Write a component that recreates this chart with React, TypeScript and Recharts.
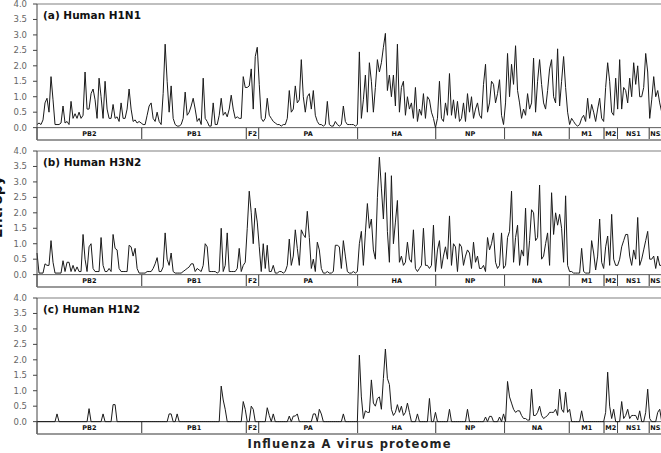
import { LineChart, Line, XAxis, YAxis, ReferenceArea, ReferenceLine } from 'recharts';

// proteome segments (amino acids)
const proteins = ['PB2', 'PB1', 'F2', 'PA', 'HA', 'NP', 'NA', 'M1', 'M2', 'NS1', 'NS2'];
const proteinLengths = [759, 757, 90, 716, 566, 498, 469, 252, 97, 230, 121];
const STEP = 14.5; // aa between samples

const yTicks = [0, 0.5, 1, 1.5, 2, 2.5, 3, 3.5, 4];

// (a) Human H1N1
const h1n1 = [
  // PB2
  0.1, 0.15, 0.1, 0.25, 0.8, 0.95, 0.5, 1.65, 0.9, 0.1, 0.1, 0.1, 0.15, 0.7, 0.15, 0.2, 0.1, 0.85, 0.3, 0.45,
  0.3, 0.5, 0.3, 0.4, 1.8, 0.6, 0.6, 1.1, 1.25, 0.9, 0.3, 1.6, 1.0, 0.3, 1.5, 0.6, 0.3, 0.3, 0.75, 0.3,
  0.35, 0.2, 0.8, 0.3, 0.3, 0.6, 1.25, 0.6, 0.2, 0.25, 0.15, 0.2, 0.15,
  // PB1
  0.1, 0.1, 0.4, 0.7, 0.8, 0.3, 0.2, 0.5, 0.2, 0.1, 1.1, 2.7, 1.5, 0.5, 1.35, 0.3, 0.1, 0.05, 0.05, 0.1,
  0.3, 1.15, 0.4, 0.5, 0.7, 0.95, 0.6, 0.2, 0.3, 0.1, 1.6, 0.3, 0.2, 0.05, 0.05, 0.8, 0.1, 0.1, 0.4, 0.95,
  0.4, 0.5, 0.35, 0.6, 1.05, 0.6, 0.3, 0.35, 0.3, 0.3, 1.65, 1.3,
  // F2
  1.3, 1.35, 1.9, 0.6, 2.3, 2.6, 1.4,
  // PA
  0.3, 0.2, 0.3, 0.95, 0.4, 0.3, 0.2, 0.15, 0.1, 0.1, 0.05, 0.1, 0.1, 0.3, 1.2, 0.5, 0.6, 1.35, 0.8, 0.9,
  2.2, 1.0, 0.5, 1.0, 1.1, 0.6, 1.2, 0.4, 0.2, 0.1, 0.1, 0.05, 0.1, 0.85, 0.1, 0.05, 0.05, 0.2, 0.1, 0.05,
  0.1, 0.7, 0.2, 0.1, 0.1, 0.1, 0.1, 0.05,
  // HA
  0.1, 2.45, 0.3, 0.9, 1.7, 0.5, 2.1, 1.5, 0.5, 1.3, 2.2, 1.8, 2.1, 2.6, 3.05, 1.2, 1.7, 1.0, 1.7, 0.7,
  2.7, 0.5, 1.3, 1.5, 0.4, 1.0, 0.6, 0.8, 0.3, 1.3, 0.2, 0.6, 0.4, 1.1, 0.3, 1.0, 0.9, 0.5, 0.3, 0,
  // NP
  0.3, 1.5, 0.3, 0.2, 0.8, 0.4, 1.75, 0.4, 0.9, 0.3, 0.85, 0.2, 0.3, 0.8, 0.2, 1.1, 0.5, 1.0, 0.3, 0.6,
  0.8, 0.4, 0.3, 1.4, 2.05, 0.5, 0.8, 1.5, 1.4, 0.8, 1.1, 1.55, 0.4, 0.1,
  // NA
  0.8, 2.4, 1.0, 2.05, 1.4, 2.65, 1.2, 0.8, 0.3, 0.6, 0.4, 1.1, 0.6, 0.8, 2.25, 0.5, 1.5, 2.2, 1.4, 0.8,
  0.6, 1.2, 1.9, 2.2, 1.0, 0.8, 2.55, 0.7, 1.5, 2.3, 1.3, 0.5, 0.1,
  // M1
  0.3, 0.2, 0.1, 0.05, 0.1, 0.3, 0.4, 0.2, 0.95, 0.3, 0.75, 0.5, 0.2, 0.6, 0.95, 0.3, 0.2,
  // M2
  1.3, 2.1, 1.5, 0.5, 0.4, 1.6, 0.6,
  // NS1
  2.2, 0.6, 1.3, 1.2, 0.8, 1.6, 1.0, 2.1, 1.4, 2.0, 1.0, 1.0, 1.3, 2.4, 1.8, 0.3,
  // NS2
  0.9, 1.65, 1.0, 1.2, 0.8, 0.5, 0.4, 0.3,
];

// (b) Human H3N2
const h3n2 = [
  // PB2
  0.7, 0.05, 0.05, 0.05, 0.35, 0.3, 0.3, 1.1, 0.4, 0.05, 0.05, 0.05, 0.05, 0.45, 0.1, 0.4, 0.4, 0.1, 0.3, 0.1,
  0.25, 0.1, 0.1, 1.3, 0.5, 0.1, 0.9, 1.0, 0.2, 0.1, 0.1, 0.1, 1.2, 0.3, 0.1, 0.1, 0.2, 0.1, 1.3, 0.85,
  0.8, 0.2, 0.1, 0.1, 0.1, 0.1, 0.95, 0.9, 0.6, 0.85, 0.2, 0.05, 0.05,
  // PB1
  0.05, 0.05, 0.1, 0.1, 0.1, 0.2, 0.35, 0.55, 0.1, 0.1, 0.25, 1.35, 0.5, 0.3, 0.7, 0.1, 0.05, 0.05, 0.05, 0.05,
  0.1, 0.15, 0.2, 0.25, 0.35, 0.35, 0.1, 0.2, 0.15, 0.1, 0.3, 1.0, 0.9, 0.1, 0.1, 0.1, 0.1, 0.05, 0.1, 1.5,
  0.1, 0.3, 1.35, 0.1, 0.1, 0.1, 0.1, 0.2, 0.85, 0.1, 0.3, 0.4,
  // F2
  1.5, 2.7, 2.0, 1.0, 2.15, 1.7, 0.9,
  // PA
  0.1, 1.0, 0.2, 0.95, 0.1, 0.1, 0.3, 0.05, 0.05, 0.1, 0.1, 0.05, 0.1, 0.3, 1.15, 0.3, 0.6, 1.45, 0.85, 0.3,
  1.45, 1.3, 1.2, 2.05, 1.2, 0.2, 0.5, 0.1, 1.05, 0.8, 0.2, 0.05, 0.05, 0.1, 0.05, 0.05, 0.1, 0.95, 0.95, 0.9,
  0.2, 1.1, 0.6, 0.1, 0.05, 0.05, 0.1, 0.05,
  // HA
  0.1, 1.0, 1.4, 0.3, 1.35, 2.3, 1.5, 1.8, 0.8, 0.5, 2.5, 3.8, 2.8, 1.8, 3.3, 1.4, 0.4, 3.2, 1.0, 1.7,
  2.4, 0.4, 0.6, 0.3, 0.4, 1.05, 0.5, 0.4, 1.45, 0.2, 0.1, 0.2, 0.3, 1.5, 0.3, 0.3, 0.2, 0.3, 1.6, 0.1,
  // NP
  0.8, 1.1, 0.2, 0.6, 0.9, 0.5, 1.9, 0.3, 1.0, 0.9, 0.1, 1.0, 0.9, 0.3, 0.6, 0.8, 0.7, 0.2, 1.05, 0.4,
  0.6, 0.2, 0.2, 0.3, 0.1, 1.2, 0.8, 1.0, 1.35, 0.4, 0.2, 0.3, 1.35, 0.2,
  // NA
  0.3, 1.2, 1.4, 2.7, 0.4, 1.2, 1.6, 0.3, 0.8, 0.6, 2.15, 0.3, 1.1, 2.1, 2.0, 1.1, 1.2, 2.9, 0.5, 0.6,
  1.0, 1.35, 0.3, 2.65, 1.3, 2.0, 1.6, 1.95, 1.5, 0.4, 2.55, 0.3, 0.1,
  // M1
  0.1, 0.05, 0.05, 0.05, 0.05, 0.85, 0.1, 0.05, 0.05, 0.05, 1.1, 0.7, 0.15, 0.6, 1.8, 0.4, 0.2,
  // M2
  0.9, 1.25, 0.3, 1.95, 0.5, 0.3, 0.3,
  // NS1
  0.5, 0.9, 1.1, 1.3, 1.3, 0.6, 0.3, 0.8, 0.5, 1.85, 0.3, 0.5, 0.8, 1.1, 1.4, 0.5,
  // NS2
  0.5, 0.6, 0.2, 0.6, 0.3, 0.3, 0.2, 0.2,
];

// (c) Human H1N2
const h1n2 = [
  // PB2
  0, 0, 0, 0, 0, 0, 0, 0, 0, 0, 0.25, 0, 0, 0, 0, 0, 0, 0, 0, 0,
  0, 0, 0, 0, 0, 0, 0.42, 0, 0, 0, 0, 0, 0, 0.25, 0, 0, 0, 0, 0.55, 0.55,
  0, 0, 0, 0, 0, 0, 0, 0, 0, 0, 0, 0, 0,
  // PB1
  0, 0, 0, 0, 0, 0, 0, 0, 0, 0, 0, 0, 0, 0.25, 0.25, 0, 0, 0.25, 0, 0,
  0, 0, 0, 0, 0, 0, 0, 0, 0, 0, 0, 0, 0, 0, 0, 0, 0, 0, 0, 1.15,
  0.7, 0.4, 0, 0, 0, 0, 0, 0, 0, 0, 0.65, 0.4,
  // F2
  0, 0, 0.5, 0.4, 0, 0, 0,
  // PA
  0, 0, 0, 0.45, 0.2, 0, 0.25, 0, 0, 0, 0, 0, 0, 0, 0.18, 0, 0.18, 0.18, 0.25, 0,
  0, 0, 0, 0, 0, 0, 0.25, 0.25, 0, 0.4, 0.25, 0, 0, 0, 0, 0, 0, 0, 0, 0,
  0, 0.25, 0, 0, 0, 0, 0, 0,
  // HA
  0, 2.15, 0.8, 0.1, 0.35, 0.3, 0.3, 1.35, 0.6, 0.5, 0.75, 0.8, 0.4, 1.4, 2.35, 1.4, 1.2, 0.4, 0.2, 0.3,
  0.55, 0.3, 0.5, 0.2, 0.3, 0.6, 0.3, 0, 0, 0, 0.25, 0, 0, 0, 0, 0, 0.75, 0, 0, 0.3,
  // NP
  0, 0, 0, 0, 0, 0, 0.4, 0, 0, 0, 0, 0, 0, 0, 0, 0.4, 0, 0, 0, 0,
  0, 0, 0, 0, 0.15, 0, 0.17, 0.17, 0, 0, 0, 0.15, 0, 0.25,
  // NA
  0, 1.3, 0.8, 0.6, 0.4, 0.3, 0.35, 0.35, 0.2, 0.1, 0.1, 0.05, 0.05, 1.05, 0.2, 0.2, 0.3, 0.5, 0.2, 0.1,
  0.15, 0.2, 0.3, 0.3, 0.3, 0.4, 0.2, 1.05, 0.4, 0.3, 0.95, 0.3, 0.4,
  // M1
  0, 0, 0, 0, 0, 0.35, 0, 0, 0, 0, 0, 0, 0, 0, 0, 0, 0,
  // M2
  0.3, 1.6, 0.5, 0.1, 0.4, 0, 0,
  // NS1
  0, 0.65, 0.1, 0.2, 0.4, 0.1, 0.2, 0.2, 0.2, 0.05, 0.35, 0, 0, 0.3, 1.05, 0.1,
  // NS2
  0, 0, 0, 0.3, 0.4, 0, 0, 0,
];

const TOTAL = proteinLengths.reduce((s, v) => s + v, 0);
const bounds = proteinLengths.map((len, i) => {
  const start = proteinLengths.slice(0, i).reduce((s, v) => s + v, 0);
  return { name: proteins[i], start, end: start + len };
});

const FONT = '"DejaVu Sans", sans-serif';

function Panel({ values, top }: { values: number[]; top: number }) {
  const data = values.map((v, i) => ({ pos: i * STEP, value: v }));
  return (
    <div style={{ position: 'absolute', left: 0, top: top - 6 }}>
      <LineChart width={666} height={148} data={data} margin={{ top: 6, right: 0, bottom: 6, left: 0 }}>
        <XAxis dataKey="pos" type="number" domain={[0, TOTAL]} hide />
        <YAxis
          type="number"
          domain={[-0.4, 4]}
          ticks={yTicks}
          width={37}
          tickSize={4}
          tickMargin={6}
          tickFormatter={(v: number) => v.toFixed(1)}
          tick={{ fontSize: 8.5, fill: '#666', fontFamily: FONT }}
          axisLine={{ stroke: '#444' }}
          tickLine={{ stroke: '#444' }}
        />
        <ReferenceLine y={4} stroke="#aaa" strokeWidth={1.5} />
        {bounds.map((b) => (
          <ReferenceArea
            key={b.name}
            x1={b.start}
            x2={b.end}
            y1={-0.4}
            y2={0}
            fill="#fff"
            fillOpacity={1}
            stroke="#333"
            strokeWidth={0.8}
            label={{ value: b.name, position: 'center', fontSize: 6.5, fontWeight: 700, fill: '#111', fontFamily: FONT }}
          />
        ))}
        <ReferenceLine y={-0.4} stroke="#999" strokeWidth={2} />
        <Line
          type="linear"
          dataKey="value"
          stroke="#1a1a1a"
          strokeWidth={1}
          dot={false}
          isAnimationActive={false}
        />
      </LineChart>
    </div>
  );
}

const titles = ['(a) Human H1N1', '(b) Human H3N2', '(c) Human H1N2'];
const panelTops = [4, 150.5, 297.5];
const series = [h1n1, h3n2, h1n2];

export default function App() {
  return (
    <div
      style={{
        position: 'fixed',
        left: 0,
        top: 0,
        width: 661,
        height: 453,
        overflow: 'hidden',
        background: '#fff',
        fontFamily: FONT,
      }}
    >
      {series.map((s, i) => (
        <Panel key={titles[i]} values={s} top={panelTops[i]} />
      ))}
      <svg width={661} height={453} style={{ position: 'absolute', left: 0, top: 0, pointerEvents: 'none' }}>
        {titles.map((t, i) => (
          <text key={t} x={43} y={panelTops[i] + 15} fontSize={10.5} fontWeight={700} fill="#111" fontFamily={FONT}>
            {t}
          </text>
        ))}
        <text
          x={349}
          y={448}
          textAnchor="middle"
          fontSize={11.5}
          fontWeight={700}
          fill="#222"
          fontFamily={FONT}
          textLength={203}
        >
          Influenza A virus proteome
        </text>
        <text
          x={2}
          y={176}
          textAnchor="end"
          fontSize={14}
          fontWeight={700}
          fill="#111"
          fontFamily={FONT}
          transform="rotate(-90, 2, 176)"
        >
          Entropy
        </text>
      </svg>
    </div>
  );
}
